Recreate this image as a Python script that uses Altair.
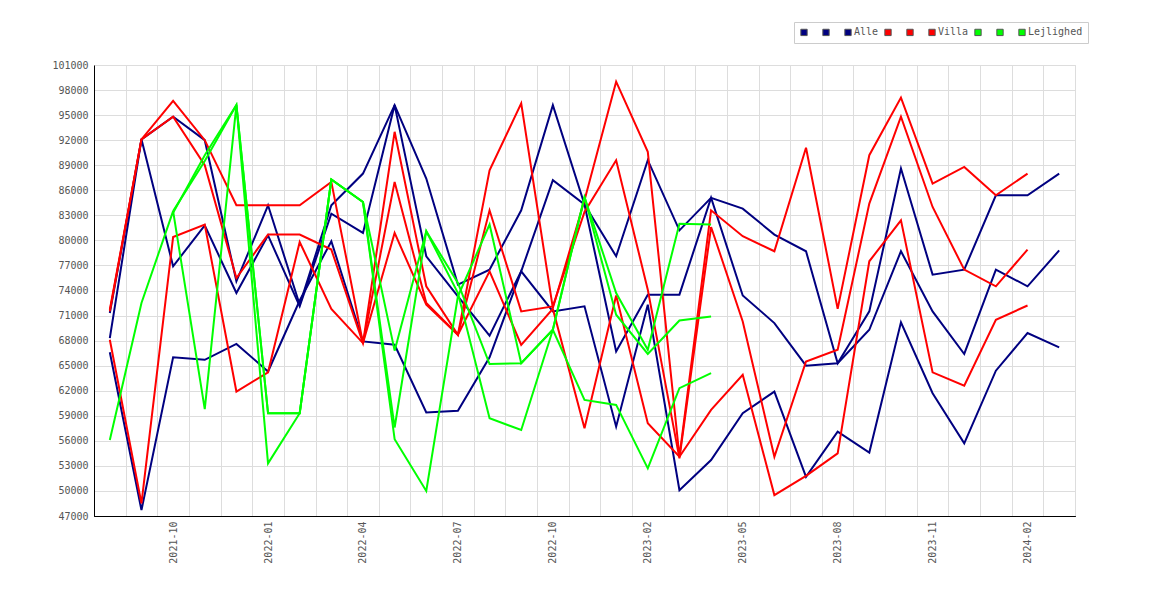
import altair as alt
import pandas as pd

months = ["2021-08", "2021-09", "2021-10", "2021-11", "2021-12", "2022-01", "2022-02",
          "2022-03", "2022-04", "2022-05", "2022-06", "2022-07", "2022-08", "2022-09",
          "2022-10", "2022-11", "2022-12", "2023-02", "2023-03", "2023-04", "2023-05",
          "2023-06", "2023-07", "2023-08", "2023-09", "2023-10", "2023-11", "2023-12",
          "2024-01", "2024-02", "2024-03"]

alle_1 = [71300, 92100, 94800, 92000, 75100, 84200, 72300, 84200, 88000, 96200, 87400,
          74700, 76500, 83600, 96200, 84300, 66700, 73500, 73500, 85100, 73400, 70100,
          65000, 65300, 69300, 78700, 71500, 66400, 76500, 74500, 78800]
alle_2 = [68300, 92100, 76900, 81800, 73700, 80600, 72100, 83200, 80900, 96200, 78100,
          73300, 68600, 76300, 87200, 84300, 78100, 89600, 81200, 85100, 83800, 80700,
          78700, 65300, 71500, 88600, 75900, 76500, 85400, 85400, 88000]
alle_3 = [66600, 47700, 66000, 65700, 67600, 64300, 72800, 79900, 67900, 67500, 59400,
          59600, 66000, 76300, 71500, 72100, 57700, 72300, 50100, 53700, 59300, 61900,
          51700, 57100, 54600, 70200, 61700, 55700, 64400, 68900, 67200]

villa_1 = [71700, 92100, 96700, 92000, 84200, 84200, 84200, 87000, 67700, 93000, 74500,
           68700, 88400, 96400, 71900, 84800, 99000, 90600, 54100, 83600, 80500, 78700,
           91100, 71800, 90200, 97100, 86800, 88800, 85400, 88000, None]
villa_2 = [71500, 92100, 94800, 89000, 75500, 80700, 80700, 78900, 67700, 87000, 72500,
           68700, 83600, 71500, 72100, 83400, 89600, 74100, 53900, 81600, 70300, 54100,
           65500, 66900, 84400, 94800, 84000, 76500, 74500, 78900, None]
villa_3 = [68100, 48500, 80400, 81900, 61900, 64200, 79800, 71800, 67700, 80900, 72300,
           68700, 76300, 67500, 71800, 57500, 73400, 58100, 54100, 59700, 63900, 49500,
           51800, 54500, 77500, 82400, 64200, 62600, 70500, 72200, None]

lejl_1 = [56100, 72500, 83500, 59800, 96200, 59300, 59300, 87300, 84600, 66800, 81100,
          74900, 65200, 65300, 69300, 85200, 73700, 66900, 82000, 81900] + [None] * 11
lejl_2 = [None, None, 83500, 89500, 96200, 53300, 59300, 87300, 84600, 57600, 81100,
          73700, 58700, 57300, 69300, 60900, 60300, 52700, 62300, 64100] + [None] * 11
lejl_3 = [None, None, 83300, 90200, 96200, 59300, 59300, 87300, 84600, 56200, 50000,
          73300, 81900, 65300, 69300, 85200, 71100, 66400, 70400, 70900] + [None] * 11

series_names = ["Alle_1", "Alle_2", "Alle", "Villa_1", "Villa_2", "Villa",
                "Lejlighed_1", "Lejlighed_2", "Lejlighed"]
series_cats = ["Alle"] * 3 + ["Villa"] * 3 + ["Lejlighed"] * 3
series_vals = [alle_1, alle_2, alle_3, villa_1, villa_2, villa_3, lejl_1, lejl_2, lejl_3]
series_colors = ["#000080"] * 3 + ["#ff0000"] * 3 + ["#00ff00"] * 3

rows = []
for name, cat, vals in zip(series_names, series_cats, series_vals):
    for i, v in enumerate(vals):
        if v is not None:
            rows.append({"idx": i, "month": months[i], "series": name, "cat": cat, "value": v})
df = pd.DataFrame(rows)

FONT = "DejaVu Sans Mono"
LABEL_COLOR = "#555555"
GRID = "#dddddd"

xscale = alt.Scale(domain=[-0.5, len(months) - 0.5], nice=False, zero=False)
yscale = alt.Scale(domain=[47000, 101000], nice=False, zero=False)
cscale = alt.Scale(domain=series_names, range=series_colors)

grid_vals = [i - 0.5 for i in range(len(months) + 1)]
label_vals = list(range(2, len(months), 3))
label_expr = "[" + ",".join("'%s'" % m for m in months) + "][datum.value]"
y_vals = list(range(47000, 101001, 3000))

x_grid_axis = alt.Axis(orient="bottom", values=grid_vals, labels=False, ticks=False,
                       grid=True, gridColor=GRID, domain=True, domainColor="black",
                       title=None)
y_axis = alt.Axis(orient="left", values=y_vals, format="d", grid=True, gridColor=GRID,
                  ticks=False, domain=True, domainColor="black", labelFont=FONT,
                  labelFontSize=10, labelColor=LABEL_COLOR, labelPadding=6, title=None)
x_label_axis = alt.Axis(orient="bottom", values=label_vals, labelExpr=label_expr,
                        labelAngle=-90, labelFont=FONT, labelFontSize=10,
                        labelColor=LABEL_COLOR, labelPadding=5, grid=False, ticks=False,
                        domain=False, title=None)


def line_layer(cat):
    return alt.Chart(df).transform_filter(alt.datum.cat == cat).mark_line(
        strokeWidth=2
    ).encode(
        x=alt.X("idx:Q", scale=xscale, axis=x_grid_axis),
        y=alt.Y("value:Q", scale=yscale, axis=y_axis),
        color=alt.Color("series:N", scale=cscale, legend=None),
        order=alt.Order("idx:Q"),
    )


BLANK = "\u2800"
legend_layer = alt.Chart(df).transform_filter("datum.idx < 0").mark_square(
    filled=True, size=40, opacity=1, stroke="#555555", strokeWidth=1
).encode(
    x=alt.X("idx:Q", scale=xscale, axis=x_label_axis),
    y=alt.Y("value:Q", scale=yscale, axis=y_axis),
    color=alt.Color("series:N", scale=cscale, legend=alt.Legend(
        orient="none", legendX=700, legendY=-43, direction="horizontal",
        title=None, strokeColor="#cccccc", fillColor="white", padding=5,
        symbolType="square", symbolSize=40, symbolStrokeColor="#555555",
        symbolStrokeWidth=1, symbolOpacity=1, labelFont=FONT, labelFontSize=10,
        labelColor=LABEL_COLOR, columnPadding=3, labelOffset=1,
        labelExpr="indexof(datum.label, '_') >= 0 ? '" + BLANK + "' : datum.label",
    )),
)

chart = alt.layer(
    line_layer("Alle"),
    line_layer("Villa"),
    line_layer("Lejlighed"),
    legend_layer,
).resolve_axis(x="independent").resolve_legend(color="independent").properties(
    width=981, height=451,
    autosize=alt.AutoSizeParams(type="none"),
    padding={"left": 86, "top": 57, "right": 20, "bottom": 60},
    background="white",
).configure_view(stroke=None)

chart.save("out.html", embed_options={"renderer": "svg", "actions": False})
